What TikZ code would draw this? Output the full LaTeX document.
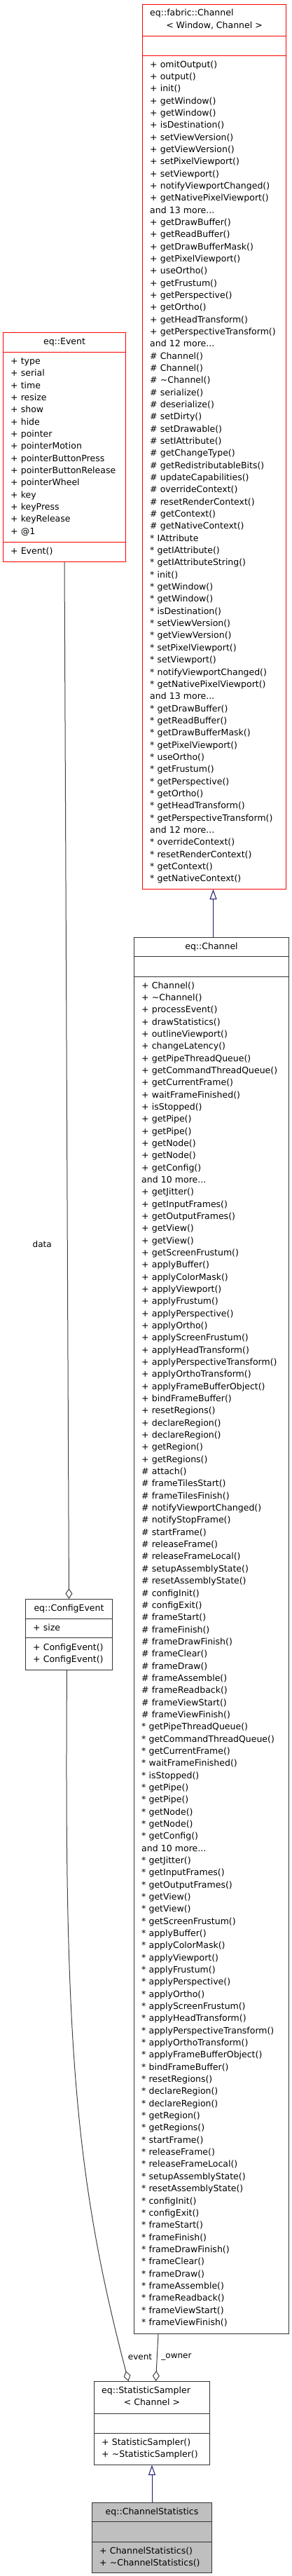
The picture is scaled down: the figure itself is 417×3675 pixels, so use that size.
\documentclass[tikz,border=0pt]{standalone}
\usepackage{fontspec}
\setmainfont{DejaVu Sans}
\usetikzlibrary{arrows.meta, calc}
\definecolor{edgeblue}{RGB}{25,25,112}
\definecolor{edgegrey}{RGB}{64,64,64}

\begin{document}
\begin{tikzpicture}[x=1pt, y=-1pt]
		% Define styles for class boxes, texts and relations
		\tikzstyle{classbox} = [rectangle, draw=black!80, line width=1pt, anchor=north west, inner sep=0pt]
		\tikzstyle{trunc} = [classbox, draw=red]
		\tikzstyle{focus} = [classbox, fill=black!25]
		\tikzstyle{divider} = [draw=black!80, line width=1pt]
		\tikzstyle{clstitle} = [inner sep=0pt, font=\fontsize{12.5}{17.34}\selectfont]
		\tikzstyle{members} = [clstitle, text width=230pt, align=left, anchor=base west]
		\tikzstyle{elabel} = [inner sep=0pt, font=\fontsize{12}{14}\selectfont]
		\tikzstyle{inherit} = [draw=edgeblue, line width=1pt, -{Triangle[length=14pt, width=10pt, fill=white]}]
		\tikzstyle{usage} = [draw=edgegrey, line width=1pt, -{Diamond[length=15pt, width=10pt, fill=white]}]

		\useasboundingbox (0,0) rectangle (417,3675);

		% eq::fabric::Channel
		\node[trunc, minimum width=205pt, minimum height=1262pt] (fabric) at (203,6) {};
		\draw[divider, red] ([yshift=-45pt]fabric.north west) -- ([yshift=-45pt]fabric.north east);
		\draw[divider, red] ([yshift=-73pt]fabric.north west) -- ([yshift=-73pt]fabric.north east);
		\node[clstitle, anchor=base west] (fabricname) at ([xshift=11pt, yshift=-17pt]fabric.north west) {eq::fabric::Channel};
		\node[clstitle, anchor=base] (fabricargs) at ([yshift=-34.3pt]fabric.north) {< Window, Channel >};
		\node[members] (fabricops) at ([xshift=11pt, yshift=-90pt]fabric.north west) {%
			+ omitOutput()\\ + output()\\ + init()\\ + getWindow()\\ + getWindow()\\
			+ isDestination()\\ + setViewVersion()\\ + getViewVersion()\\ + setPixelViewport()\\
			+ setViewport()\\ + notifyViewportChanged()\\ + getNativePixelViewport()\\
			and 13 more...\\
			+ getDrawBuffer()\\ + getReadBuffer()\\ + getDrawBufferMask()\\ + getPixelViewport()\\
			+ useOrtho()\\ + getFrustum()\\ + getPerspective()\\ + getOrtho()\\
			+ getHeadTransform()\\ + getPerspectiveTransform()\\
			and 12 more...\\
			\# Channel()\\ \# Channel()\\ \# \textasciitilde Channel()\\ \# serialize()\\
			\# deserialize()\\ \# setDirty()\\ \# setDrawable()\\ \# setIAttribute()\\
			\# getChangeType()\\ \# getRedistributableBits()\\ \# updateCapabilities()\\
			\# overrideContext()\\ \# resetRenderContext()\\ \# getContext()\\ \# getNativeContext()\\
			{*} IAttribute\\ {*} getIAttribute()\\ {*} getIAttributeString()\\ {*} init()\\
			{*} getWindow()\\ {*} getWindow()\\ {*} isDestination()\\ {*} setViewVersion()\\
			{*} getViewVersion()\\ {*} setPixelViewport()\\ {*} setViewport()\\
			{*} notifyViewportChanged()\\ {*} getNativePixelViewport()\\
			and 13 more...\\
			{*} getDrawBuffer()\\ {*} getReadBuffer()\\ {*} getDrawBufferMask()\\ {*} getPixelViewport()\\
			{*} useOrtho()\\ {*} getFrustum()\\ {*} getPerspective()\\ {*} getOrtho()\\
			{*} getHeadTransform()\\ {*} getPerspectiveTransform()\\
			and 12 more...\\
			{*} overrideContext()\\ {*} resetRenderContext()\\ {*} getContext()\\ {*} getNativeContext()};

		% eq::Event
		\node[trunc, minimum width=175pt, minimum height=327pt] (event) at (4,474) {};
		\draw[divider, red] ([yshift=-28pt]event.north west) -- ([yshift=-28pt]event.north east);
		\draw[divider, red] ([yshift=-299pt]event.north west) -- ([yshift=-299pt]event.north east);
		\node[clstitle, anchor=base] (eventname) at ([yshift=-17pt]event.north) {eq::Event};
		\node[members] (eventattrs) at ([xshift=11pt, yshift=-45.5pt]event.north west) {%
			+ type\\ + serial\\ + time\\ + resize\\ + show\\ + hide\\ + pointer\\
			+ pointerMotion\\ + pointerButtonPress\\ + pointerButtonRelease\\ + pointerWheel\\
			+ key\\ + keyPress\\ + keyRelease\\ + @1};
		\node[members] (eventops) at ([xshift=11pt, yshift=-316pt]event.north west) {+ Event()};

		% eq::ConfigEvent
		\node[classbox, minimum width=124pt, minimum height=101pt] (cfgevent) at (36,2281) {};
		\draw[divider] ([yshift=-28pt]cfgevent.north west) -- ([yshift=-28pt]cfgevent.north east);
		\draw[divider] ([yshift=-55pt]cfgevent.north west) -- ([yshift=-55pt]cfgevent.north east);
		\node[clstitle, anchor=base] (cfgeventname) at ([yshift=-17pt]cfgevent.north) {eq::ConfigEvent};
		\node[members] (cfgeventattrs) at ([xshift=11pt, yshift=-45pt]cfgevent.north west) {+ size};
		\node[members] (cfgeventops) at ([xshift=11pt, yshift=-73pt]cfgevent.north west) {%
			+ ConfigEvent()\\ + ConfigEvent()};

		% eq::Channel
		\node[classbox, minimum width=221pt, minimum height=1992pt] (channel) at (191,1337) {};
		\draw[divider] ([yshift=-27pt]channel.north west) -- ([yshift=-27pt]channel.north east);
		\draw[divider] ([yshift=-56pt]channel.north west) -- ([yshift=-56pt]channel.north east);
		\node[clstitle, anchor=base] (channelname) at ([yshift=-17pt]channel.north) {eq::Channel};
		\node[members] (channelops) at ([xshift=11pt, yshift=-73pt]channel.north west) {%
			+ Channel()\\ + \textasciitilde Channel()\\ + processEvent()\\ + drawStatistics()\\
			+ outlineViewport()\\ + changeLatency()\\ + getPipeThreadQueue()\\
			+ getCommandThreadQueue()\\ + getCurrentFrame()\\ + waitFrameFinished()\\
			+ isStopped()\\ + getPipe()\\ + getPipe()\\ + getNode()\\ + getNode()\\ + getConfig()\\
			and 10 more...\\
			+ getJitter()\\ + getInputFrames()\\ + getOutputFrames()\\ + getView()\\ + getView()\\
			+ getScreenFrustum()\\ + applyBuffer()\\ + applyColorMask()\\ + applyViewport()\\
			+ applyFrustum()\\ + applyPerspective()\\ + applyOrtho()\\ + applyScreenFrustum()\\
			+ applyHeadTransform()\\ + applyPerspectiveTransform()\\ + applyOrthoTransform()\\
			+ applyFrameBufferObject()\\ + bindFrameBuffer()\\ + resetRegions()\\
			+ declareRegion()\\ + declareRegion()\\ + getRegion()\\ + getRegions()\\
			\# attach()\\ \# frameTilesStart()\\ \# frameTilesFinish()\\ \# notifyViewportChanged()\\
			\# notifyStopFrame()\\ \# startFrame()\\ \# releaseFrame()\\ \# releaseFrameLocal()\\
			\# setupAssemblyState()\\ \# resetAssemblyState()\\ \# configInit()\\ \# configExit()\\
			\# frameStart()\\ \# frameFinish()\\ \# frameDrawFinish()\\ \# frameClear()\\
			\# frameDraw()\\ \# frameAssemble()\\ \# frameReadback()\\ \# frameViewStart()\\
			\# frameViewFinish()\\
			{*} getPipeThreadQueue()\\ {*} getCommandThreadQueue()\\ {*} getCurrentFrame()\\
			{*} waitFrameFinished()\\ {*} isStopped()\\ {*} getPipe()\\ {*} getPipe()\\
			{*} getNode()\\ {*} getNode()\\ {*} getConfig()\\
			and 10 more...\\
			{*} getJitter()\\ {*} getInputFrames()\\ {*} getOutputFrames()\\ {*} getView()\\
			{*} getView()\\ {*} getScreenFrustum()\\ {*} applyBuffer()\\ {*} applyColorMask()\\
			{*} applyViewport()\\ {*} applyFrustum()\\ {*} applyPerspective()\\ {*} applyOrtho()\\
			{*} applyScreenFrustum()\\ {*} applyHeadTransform()\\ {*} applyPerspectiveTransform()\\
			{*} applyOrthoTransform()\\ {*} applyFrameBufferObject()\\ {*} bindFrameBuffer()\\
			{*} resetRegions()\\ {*} declareRegion()\\ {*} declareRegion()\\ {*} getRegion()\\
			{*} getRegions()\\ {*} startFrame()\\ {*} releaseFrame()\\ {*} releaseFrameLocal()\\
			{*} setupAssemblyState()\\ {*} resetAssemblyState()\\ {*} configInit()\\
			{*} configExit()\\ {*} frameStart()\\ {*} frameFinish()\\ {*} frameDrawFinish()\\
			{*} frameClear()\\ {*} frameDraw()\\ {*} frameAssemble()\\ {*} frameReadback()\\
			{*} frameViewStart()\\ {*} frameViewFinish()};

		% eq::StatisticSampler
		\node[classbox, minimum width=165pt, minimum height=119pt] (sampler) at (134,3397) {};
		\draw[divider] ([yshift=-46pt]sampler.north west) -- ([yshift=-46pt]sampler.north east);
		\draw[divider] ([yshift=-74pt]sampler.north west) -- ([yshift=-74pt]sampler.north east);
		\node[clstitle, anchor=base west] (samplername) at ([xshift=11pt, yshift=-17pt]sampler.north west) {eq::StatisticSampler};
		\node[clstitle, anchor=base] (samplerargs) at ([yshift=-34.3pt]sampler.north) {< Channel >};
		\node[members] (samplerops) at ([xshift=11pt, yshift=-91pt]sampler.north west) {%
			+ StatisticSampler()\\ + \textasciitilde StatisticSampler()};

		% eq::ChannelStatistics
		\node[focus, minimum width=171pt, minimum height=100pt] (chanstats) at (131,3570) {};
		\draw[divider] ([yshift=-27pt]chanstats.north west) -- ([yshift=-27pt]chanstats.north east);
		\draw[divider] ([yshift=-56pt]chanstats.north west) -- ([yshift=-56pt]chanstats.north east);
		\node[clstitle, anchor=base] (chanstatsname) at ([yshift=-17pt]chanstats.north) {eq::ChannelStatistics};
		\node[members] (chanstatsops) at ([xshift=11pt, yshift=-73pt]chanstats.north west) {%
			+ ChannelStatistics()\\ + \textasciitilde ChannelStatistics()};

		% Relations
		\draw[inherit] ([xshift=2.5pt]channel.north) -- ([xshift=-1.5pt]fabric.south);
		\draw[inherit] (chanstats.north) -- (sampler.south);
		\draw[usage] (event.south) -- node[elabel, pos=0.658, left=22pt] (datalabel) {data} (cfgevent.north);
		\draw[usage] ([xshift=-3pt]cfgevent.south) .. controls (92,2900) and (105,3100) .. ([xshift=-33.5pt]sampler.north);
		\draw[usage] ([xshift=35pt]channel.south west) -- ([xshift=5.5pt]sampler.north);
		\node[elabel] (eventlabel) at (200,3362) {event};
		\node[elabel] (ownerlabel) at (252,3363) {\_owner};

	\end{tikzpicture}
\end{document}
